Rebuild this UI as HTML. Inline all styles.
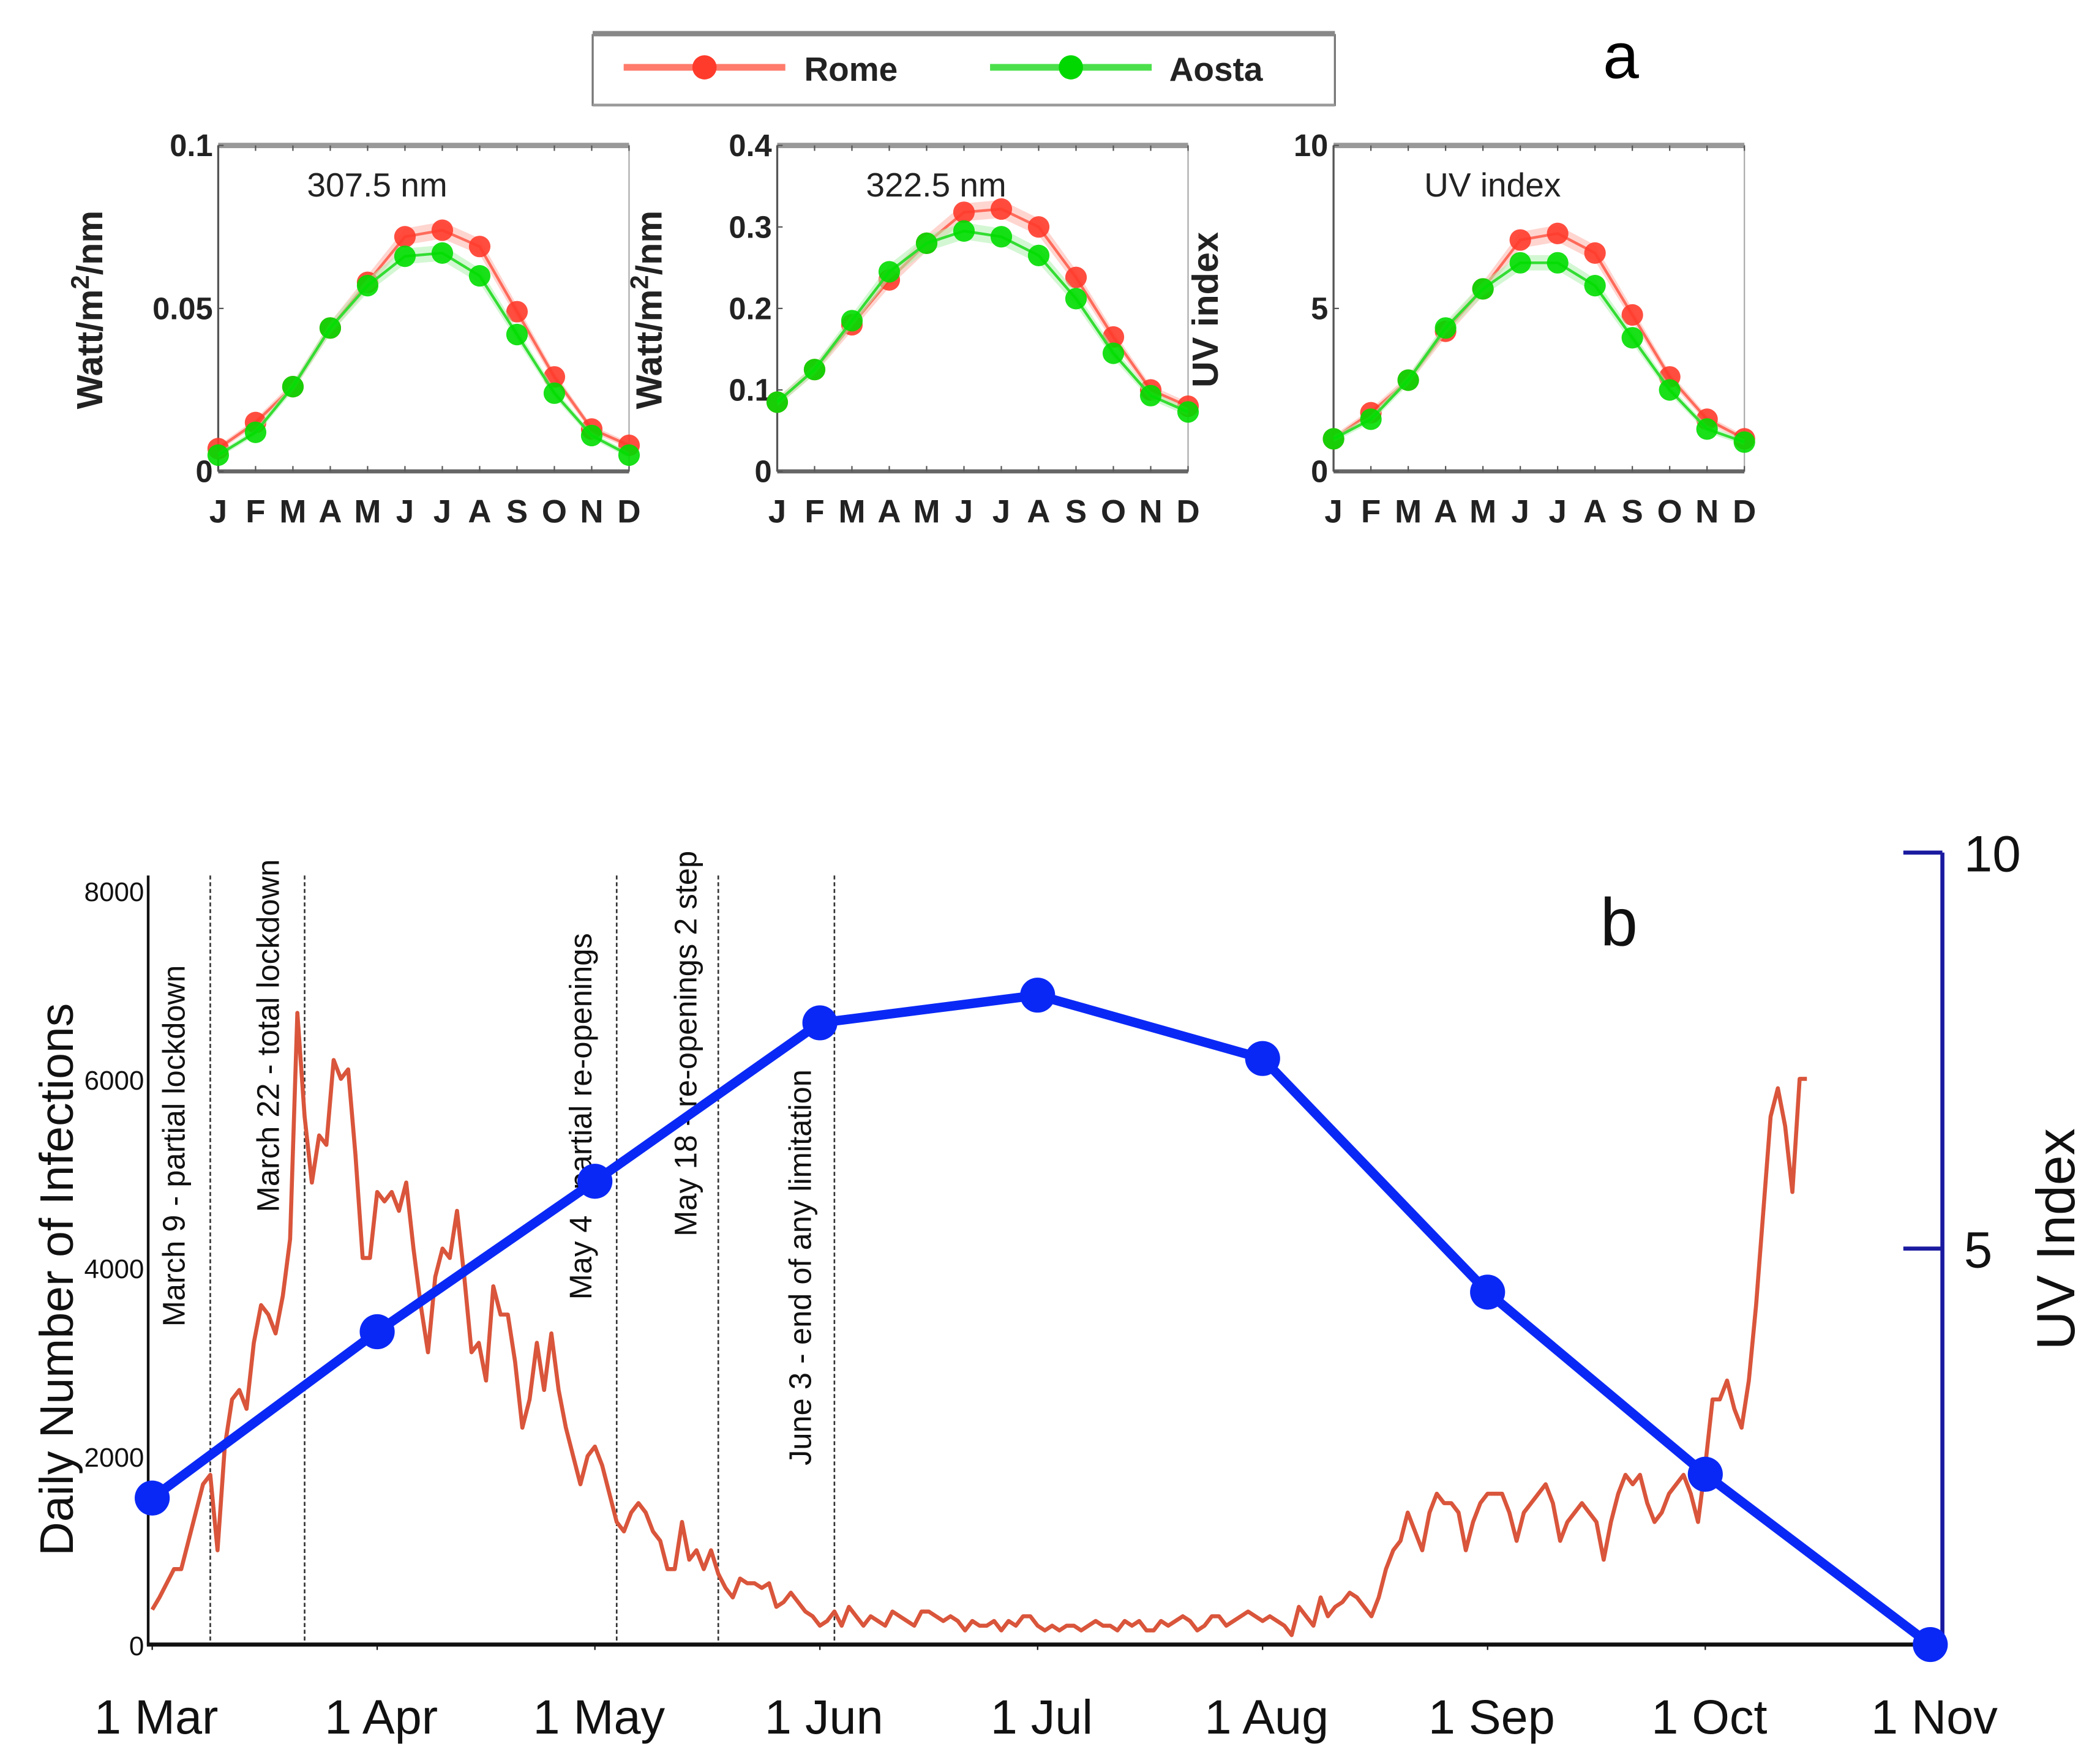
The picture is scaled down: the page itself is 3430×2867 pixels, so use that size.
<!DOCTYPE html>
<html><head><meta charset="utf-8"><style>
html,body{margin:0;padding:0;background:#fff;}
svg{display:block;}
text{font-family:"Liberation Sans",Arial,sans-serif;}
.pre{white-space:pre;}
</style></head><body>
<svg id="fig" width="3430" height="2867" viewBox="0 0 1559 1303" preserveAspectRatio="none" xmlns="http://www.w3.org/2000/svg">
<g id="topPanel"></g>
<g id="bottomPanel"></g>
</svg>
<script>
// ---------- Panel a data ----------
const months = ["J","F","M","A","M","J","J","A","S","O","N","D"];
const rome307 = [0.007,0.015,0.026,0.044,0.058,0.072,0.074,0.069,0.049,0.029,0.013,0.008];
const aosta307 = [0.005,0.012,0.026,0.044,0.057,0.066,0.067,0.060,0.042,0.024,0.011,0.005];
const rome322 = [0.085,0.125,0.180,0.235,0.280,0.318,0.322,0.300,0.238,0.165,0.100,0.080];
const aosta322 = [0.085,0.125,0.185,0.245,0.280,0.295,0.288,0.265,0.212,0.145,0.093,0.073];
const romeUV = [1.0,1.8,2.8,4.3,5.6,7.1,7.3,6.7,4.8,2.9,1.6,1.0];
const aostaUV = [1.0,1.6,2.8,4.4,5.6,6.4,6.4,5.7,4.1,2.5,1.3,0.9];
const ticks307 = ["0","0.05","0.1"];
const ticks322 = ["0","0.1","0.2","0.3","0.4"];
const ticksUV = ["0","5","10"];

// ---------- Panel b data ----------
const dateLabels = ["1 Mar","1 Apr","1 May","1 Jun","1 Jul","1 Aug","1 Sep","1 Oct","1 Nov"];
const dateDays = [0,31,61,92,122,153,184,214,245];
const uvMonthly = [1.85,3.95,5.85,7.85,8.2,7.4,4.45,2.15,0];
const infTicks = [0,2000,4000,6000,8000];
const uvTicks = [5,10];
const events = ["March 9 - partial lockdown","March 22 - total lockdown","May 4   partial re-openings","May 18 - re-openings 2 step","June 3 - end of any limitation"];
const eventDays = [8,21,64,78,94];
const infections = [
370,500,650,800,800,1100,1400,1700,1800,1000,2100,2600,2700,2500,3200,3600,3500,3300,3700,4300,6700,5600,4900,5400,5300,6200,6000,6100,5200,4100,4100,
4800,4700,4800,4600,4900,4200,3600,3100,3900,4200,4100,4600,3900,3100,3200,2800,3800,3500,3500,3000,2300,2600,3200,2700,3300,2700,2300,2000,1700,2000,
2100,1900,1600,1300,1200,1400,1500,1400,1200,1100,800,800,1300,900,1000,800,1000,750,600,500,700,650,650,600,650,400,450,550,450,350,300,
200,250,350,200,400,300,200,300,250,200,350,300,250,200,350,350,300,250,300,250,150,250,200,200,250,150,250,200,300,300,200,
150,200,150,200,200,150,200,250,200,200,150,250,200,250,150,150,250,200,250,300,250,150,200,300,300,200,250,300,350,300,250,
300,250,200,100,400,300,200,500,300,400,450,550,500,400,300,500,800,1000,1100,1400,1200,1000,1400,1600,1500,1500,1400,1000,1300,1500,1600,
1600,1600,1400,1100,1400,1500,1600,1700,1500,1100,1300,1400,1500,1400,1300,900,1300,1600,1800,1700,1800,1500,1300,1400,1600,1700,1800,1600,1300,1900,
2600,2600,2800,2500,2300,2800,3600,4600,5600,5900,5500,4800,6000,6000
];

const NS="http://www.w3.org/2000/svg";
function mk(parent,tag,attrs,txt){const e=document.createElementNS(NS,tag);for(const k in attrs)e.setAttribute(k,attrs[k]);if(txt!==undefined)e.textContent=txt;parent.appendChild(e);return e;}

// ---------- Panel a ----------
const topG=document.getElementById('topPanel');
const lg=mk(topG,'g',{});


mk(lg,'rect',{x:440,y:26,width:551,height:52,fill:'#fff',stroke:'#777','stroke-width':1.5});
mk(lg,'line',{x1:440,y1:25,x2:991,y2:25,stroke:'#888','stroke-width':4});
mk(lg,'line',{x1:440,y1:78,x2:991,y2:78,stroke:'#999','stroke-width':2});
const le1=mk(lg,'g',{});


mk(le1,'line',{x1:463,y1:50,x2:583,y2:50,stroke:'#ff7b6b','stroke-width':5});
mk(le1,'circle',{cx:523,cy:50,r:9,fill:'#ff3b2b'});
mk(le1,'text',{x:597,y:60,'font-size':25,'font-weight':'bold',fill:'#222'},'Rome');
const le2=mk(lg,'g',{});


mk(le2,'line',{x1:735,y1:50,x2:855,y2:50,stroke:'#4be04b','stroke-width':5});
mk(le2,'circle',{cx:795,cy:50,r:9,fill:'#00d800'});
mk(le2,'text',{x:868,y:60,'font-size':25,'font-weight':'bold',fill:'#222'},'Aosta');
const la=mk(topG,'text',{x:1190,y:58,'font-size':48,fill:'#000'},'a');



function smallPanel(x0,maxV,ticks,rome,aosta,title,ylab,name){
  const g=mk(topG,'g',{});
  
  
  const x1=x0+305, yT=108, yB=350;
  const X=i=>x0+i*(305/11), Y=v=>yB-(v/maxV)*(yB-yT);
  mk(g,'rect',{x:x0,y:yT,width:305,height:yB-yT,fill:'none',stroke:'#aaa','stroke-width':1});
  mk(g,'line',{x1:x0,y1:yT,x2:x1,y2:yT,stroke:'#999','stroke-width':4});
  mk(g,'line',{x1:x0,y1:yB,x2:x1,y2:yB,stroke:'#666','stroke-width':3});
  mk(g,'line',{x1:x0,y1:yT,x2:x0,y2:yB,stroke:'#555','stroke-width':1.5});
  ticks.forEach(t=>{const v=parseFloat(t);const y=Y(v);
    mk(g,'line',{x1:x0,y1:y,x2:x0+4,y2:y,stroke:'#555','stroke-width':1});
    const tl=mk(g,'text',{x:x0-4,y:y+8,'font-size':23,'font-weight':'bold','text-anchor':'end',fill:'#222'},t);
    
    
  });
  months.forEach((m,i)=>{
    mk(g,'line',{x1:X(i),y1:yB,x2:X(i),y2:yB-4,stroke:'#555','stroke-width':1});
    mk(g,'line',{x1:X(i),y1:yT,x2:X(i),y2:yT+4,stroke:'#555','stroke-width':1});
    const ml=mk(g,'text',{x:X(i),y:388,'font-size':24,'font-weight':'bold','text-anchor':'middle',fill:'#222'},m);
    
    
  });
  const tt=mk(g,'text',{x:x0+118,y:146,'font-size':25,'text-anchor':'middle',fill:'#222'},title);
  
  
  const yl=mk(g,'text',{x:0,y:0,'font-size':27,'font-weight':'bold','text-anchor':'middle',fill:'#222',transform:'translate('+(x0-86)+',230) rotate(-90)'});
  
  
  if(ylab==='W'){yl.textContent='Watt/m';mk(yl,'tspan',{dy:-10,'font-size':19},'2');mk(yl,'tspan',{dy:10},'/nm');}
  else yl.textContent=ylab;
  [[rome,'#ffb3aa','#ff6a5a','#ff3b2b','rome'],[aosta,'#aef0ae','#33dd33','#00dd00','aosta']].forEach(([d,band,lc,mc,nm])=>{
    const off=maxV*0.025;
    const up=d.map((v,i)=>X(i)+','+Y(v+off*(0.3+v/maxV)));
    const dn=d.map((v,i)=>X(i)+','+Y(v-off*(0.3+v/maxV))).reverse();
    mk(g,'polygon',{points:up.concat(dn).join(' '),fill:band,opacity:0.55});
    const pl=mk(g,'polyline',{points:d.map((v,i)=>X(i)+','+Y(v)).join(' '),fill:'none',stroke:lc,'stroke-width':2});
    
    
    d.forEach((v,i)=>{const c=mk(g,'circle',{cx:X(i),cy:Y(v),r:8,fill:mc,opacity:0.9});
      
      });
  });
}
smallPanel(162,0.1,ticks307,rome307,aosta307,'307.5 nm','W','chart-307nm');
smallPanel(577,0.4,ticks322,rome322,aosta322,'322.5 nm','W','chart-322nm');
smallPanel(990,10,ticksUV,romeUV,aostaUV,'UV index','UV index','chart-uv-index');

// ---------- Panel b ----------
const botG=document.getElementById('bottomPanel');
const bx0=113, pxDay=(1433-113)/245, by0=1221;
const Xd=d=>bx0+d*pxDay;
const Yi=v=>by0-v*(560/8000);
const Yu=v=>by0-v*(588/10);

events.forEach((ev,i)=>{
  const x=Xd(eventDays[i]);
  const l=mk(botG,'line',{x1:x,y1:650,x2:x,y2:by0,stroke:'#333','stroke-width':1.2,'stroke-dasharray':'3,2'});
  
  
});
const evText=[[130,985],[200,900],[432,965],[510,918],[595,1088]];
events.forEach((ev,i)=>{
  const t=mk(botG,'text',{x:0,y:0,'font-size':23,fill:'#111','class':'pre',transform:'translate('+(evText[i][0]+7)+','+evText[i][1]+') rotate(-90)'},ev);
  
  
});

mk(botG,'line',{x1:110,y1:650,x2:110,y2:by0,stroke:'#111','stroke-width':2});
const xa=mk(botG,'line',{x1:109,y1:by0,x2:1442,y2:by0,stroke:'#111','stroke-width':3});


infTicks.forEach(v=>{const t=mk(botG,'text',{x:107,y:Yi(v)+8,'font-size':20,'text-anchor':'end',fill:'#111'},String(v));
  
  });
dateLabels.forEach((d,i)=>{const x=Xd(dateDays[i]);
  mk(botG,'line',{x1:x,y1:by0,x2:x,y2:by0+4,stroke:'#111','stroke-width':1});
  const t=mk(botG,'text',{x:x+3,y:1287,'font-size':36,'text-anchor':'middle',fill:'#111'},d);
  
  });
const ylt=mk(botG,'text',{x:0,y:0,'font-size':35,'text-anchor':'middle',fill:'#111',transform:'translate(54,950) rotate(-90)'},'Daily Number of Infections');


mk(botG,'line',{x1:1442,y1:Yu(10),x2:1442,y2:by0,stroke:'#1a1aa0','stroke-width':3});
uvTicks.forEach(v=>{mk(botG,'line',{x1:1413,y1:Yu(v),x2:1442,y2:Yu(v),stroke:'#1a1aa0','stroke-width':3});
  const t=mk(botG,'text',{x:1458,y:Yu(v)+14,'font-size':38,fill:'#111'},String(v));
  
  });
const yrt=mk(botG,'text',{x:0,y:0,'font-size':40,'text-anchor':'middle',fill:'#111',transform:'translate(1540,920) rotate(-90)'},'UV Index');


const lb=mk(botG,'text',{x:1188,y:702,'font-size':50,fill:'#111'},'b');



const inf=mk(botG,'polyline',{points:infections.map((v,i)=>Xd(i)+','+Yi(v)).join(' '),fill:'none',stroke:'#d9553b','stroke-width':3,'stroke-linejoin':'round'});


const uvl=mk(botG,'polyline',{points:uvMonthly.map((v,i)=>Xd(dateDays[i])+','+Yu(v)).join(' '),fill:'none',stroke:'#0a28f5','stroke-width':7});


uvMonthly.forEach((v,i)=>{const c=mk(botG,'circle',{cx:Xd(dateDays[i]),cy:Yu(v),r:13,fill:'#0a28f5'});
  
  });
</script>
</body></html>
